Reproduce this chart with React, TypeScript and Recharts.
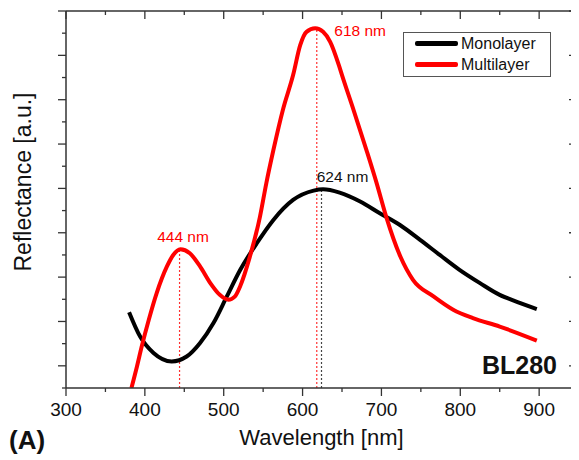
import React from 'react';
import { LineChart, Line, XAxis, YAxis, ReferenceLine, Legend } from 'recharts';

// ---- data (wavelength in nm, reflectance in a.u.) ----
const monoWavelength = [380, 394, 411, 434, 453, 470, 487, 504, 521, 542, 563, 588, 614, 626, 647, 673, 698, 723, 749, 774, 799, 825, 850, 867, 897];
const monoReflectance = [3.42, 2.32, 1.58, 1.2, 1.42, 2.03, 2.93, 4.13, 5.33, 6.53, 7.58, 8.48, 8.9, 8.96, 8.81, 8.41, 7.88, 7.36, 6.68, 6.0, 5.33, 4.73, 4.2, 3.95, 3.56];

const multiWavelength = [383, 390, 396, 405, 415, 428, 436, 445, 457, 470, 483, 495, 506, 514, 521, 533, 546, 554, 563, 575, 588, 597, 605, 616, 626, 635, 646, 650, 665, 681, 694, 706, 724, 740, 766, 791, 816, 850, 897];
const multiReflectance = [0, 0.97, 1.87, 3.08, 4.28, 5.48, 6.0, 6.26, 6.08, 5.48, 4.73, 4.2, 3.98, 4.12, 4.6, 5.9, 7.73, 9.23, 10.73, 12.54, 14.11, 15.46, 16.06, 16.22, 16.06, 15.61, 14.56, 14.11, 12.5, 10.73, 9.23, 7.73, 5.93, 4.88, 4.13, 3.53, 3.15, 2.77, 2.14];

const xTicks = [300, 350, 400, 450, 500, 550, 600, 650, 700, 750, 800, 850, 900];
const yTicks = [0, 1, 2, 3, 4, 5, 6, 7, 8, 9, 10, 11, 12, 13, 14, 15, 16, 17];

const peakNames = ['444 nm', '618 nm', '624 nm'];
const peakWavelength = [444, 618, 624];
const peakReflectance = [6.26, 16.22, 8.96];

const monoData = monoWavelength.map((x, i) => ({ x, y: monoReflectance[i] }));
const multiData = multiWavelength.map((x, i) => ({ x, y: multiReflectance[i] }));

const FONT = "'Liberation Sans', Arial, Helvetica, sans-serif";
const AXIS = '#333333';

const peakStyle: Record<string, { line: string; text: string; dx: number; dy: number; anchor: string }> = {
  '444 nm': { line: '#ff3030', text: '#ff0000', dx: 3.5, dy: -7, anchor: 'middle' },
  '618 nm': { line: '#ff3030', text: '#ff0000', dx: 17.5, dy: 8, anchor: 'start' },
  '624 nm': { line: '#444444', text: '#111111', dx: 21, dy: -7.5, anchor: 'middle' },
};

const isMajorX = (v: number) => v % 100 === 0;
const isMajorY = (v: number) => v % 2 === 1;

const BottomTick = (props: any) => {
  const { x, y, payload } = props;
  const major = isMajorX(payload.value);
  return (
    <g>
      <line x1={x} x2={x} y1={y} y2={y + (major ? 8 : 4)} stroke={AXIS} strokeWidth={1.3} />
      {major && (
        <text x={x} y={y + 28} textAnchor="middle" fontSize={19} fill="#111" fontFamily={FONT}>
          {payload.value}
        </text>
      )}
    </g>
  );
};

const TopTick = (props: any) => {
  const { x, y, payload } = props;
  const major = isMajorX(payload.value);
  return <line x1={x} x2={x} y1={y} y2={y + (major ? 8 : 4)} stroke={AXIS} strokeWidth={1.3} />;
};

const LeftTick = (props: any) => {
  const { x, y, payload } = props;
  const major = isMajorY(payload.value);
  return <line x1={x} x2={x - (major ? 8 : 4)} y1={y} y2={y} stroke={AXIS} strokeWidth={1.3} />;
};

const RightTick = (props: any) => {
  const { x, y, payload } = props;
  const major = isMajorY(payload.value);
  return <line x1={x} x2={x - (major ? 8 : 4)} y1={y} y2={y} stroke={AXIS} strokeWidth={1.3} />;
};

const renderLegend = (props: any) => {
  const { payload } = props;
  return (
    <div
      style={{
        width: 146,
        height: 43,
        border: '1px solid #555',
        background: '#fff',
        fontFamily: FONT,
      }}
    >
      {(payload || []).map((entry: any) => (
        <div key={entry.value} style={{ display: 'flex', alignItems: 'center', height: 21 }}>
          <div style={{ marginLeft: 11, width: 43, height: 5, background: entry.color, borderRadius: 2 }} />
          <span style={{ marginLeft: 3, fontSize: 16, color: '#111', lineHeight: '21px' }}>{entry.value}</span>
        </div>
      ))}
    </div>
  );
};

const PeakLine = (props: any) => {
  const { x1, y1, x2, y2, stroke } = props;
  return <line x1={x1} y1={y1} x2={x2} y2={y2} stroke={stroke} strokeWidth={1.2} strokeDasharray="2 2" />;
};

const peakLabel = (text: string) => (props: any) => {
  const vb = props.viewBox || {};
  const s = peakStyle[text];
  return (
    <text x={vb.x + s.dx} y={vb.y + s.dy} textAnchor={s.anchor} fontSize={15.5} fill={s.text} fontFamily={FONT}>
      {text}
    </text>
  );
};

export default function App() {
  return (
    <div style={{ position: 'relative', width: 571, height: 452 }}>
      <LineChart width={571} height={452} margin={{ top: 2, right: 1, left: 0, bottom: 0 }}>
        <XAxis
          xAxisId="bottom"
          type="number"
          dataKey="x"
          domain={[300, 948]}
          allowDataOverflow
          ticks={xTicks}
          interval={0}
          height={72}
          tickSize={0}
          tickMargin={0}
          tickLine={false}
          axisLine={{ stroke: AXIS, strokeWidth: 1.5 }}
          tick={<BottomTick />}
          label={() => (
            <text x={313.5} y={437} textAnchor="middle" fontSize={22} fill="#111" fontFamily={FONT}>
              Wavelength [nm]
            </text>
          )}
        />
        <XAxis
          xAxisId="top"
          orientation="top"
          type="number"
          dataKey="x"
          domain={[300, 948]}
          allowDataOverflow
          ticks={xTicks}
          interval={0}
          height={1}
          tickSize={0}
          tickMargin={0}
          tickLine={false}
          axisLine={{ stroke: AXIS, strokeWidth: 1.5 }}
          tick={<TopTick />}
        />
        <YAxis
          yAxisId="left"
          type="number"
          domain={[0, 17]}
          allowDataOverflow
          ticks={yTicks}
          interval={0}
          width={58}
          tickSize={0}
          tickMargin={0}
          tickLine={false}
          axisLine={{ stroke: AXIS, strokeWidth: 1.5 }}
          tick={<LeftTick />}
          label={() => (
            <text
              x={14.5}
              y={174}
              transform="rotate(-90 14.5 174)"
              textAnchor="middle"
              dominantBaseline="central"
              fontSize={23}
              fill="#111"
              fontFamily={FONT}
            >
              Reflectance [a.u.]
            </text>
          )}
        />
        <YAxis
          yAxisId="right"
          orientation="right"
          type="number"
          domain={[0, 17]}
          allowDataOverflow
          ticks={yTicks}
          interval={0}
          width={1}
          tickSize={0}
          tickMargin={0}
          tickLine={false}
          axisLine={{ stroke: AXIS, strokeWidth: 1.5 }}
          tick={<RightTick />}
        />
        {peakNames.map((name, i) => (
          <ReferenceLine
            key={name}
            xAxisId="bottom"
            yAxisId="left"
            segment={[
              { x: peakWavelength[i], y: 0 },
              { x: peakWavelength[i], y: peakReflectance[i] },
            ]}
            stroke={peakStyle[name].line}
            strokeWidth={1.2}
            strokeDasharray="2 2"
            shape={(p: any) => <PeakLine {...p} stroke={peakStyle[name].line} />}
            label={peakLabel(name)}
          />
        ))}
        <Line
          xAxisId="bottom"
          yAxisId="left"
          data={monoData}
          dataKey="y"
          name="Monolayer"
          type="monotone"
          stroke="#000000"
          strokeWidth={4}
          dot={false}
          activeDot={false}
          isAnimationActive={false}
        />
        <Line
          xAxisId="bottom"
          yAxisId="left"
          data={multiData}
          dataKey="y"
          name="Multilayer"
          type="monotone"
          stroke="#ff0000"
          strokeWidth={4}
          dot={false}
          activeDot={false}
          isAnimationActive={false}
        />
        <Legend
          layout="horizontal"
          verticalAlign="middle"
          align="center"
          content={renderLegend}
          wrapperStyle={{ left: 395, top: 24, width: 148, height: 45 }}
        />
      </LineChart>
      <svg
        width={571}
        height={452}
        style={{ position: 'absolute', left: 0, top: 0, pointerEvents: 'none', overflow: 'visible' }}
      >
        <text x={549} y={366} textAnchor="end" fontSize={25} fontWeight="bold" fill="#111" fontFamily={FONT}>
          BL280
        </text>
        <text x={1} y={441} fontSize={26} fontWeight="bold" fill="#111" fontFamily={FONT}>
          (A)
        </text>
      </svg>
    </div>
  );
}
